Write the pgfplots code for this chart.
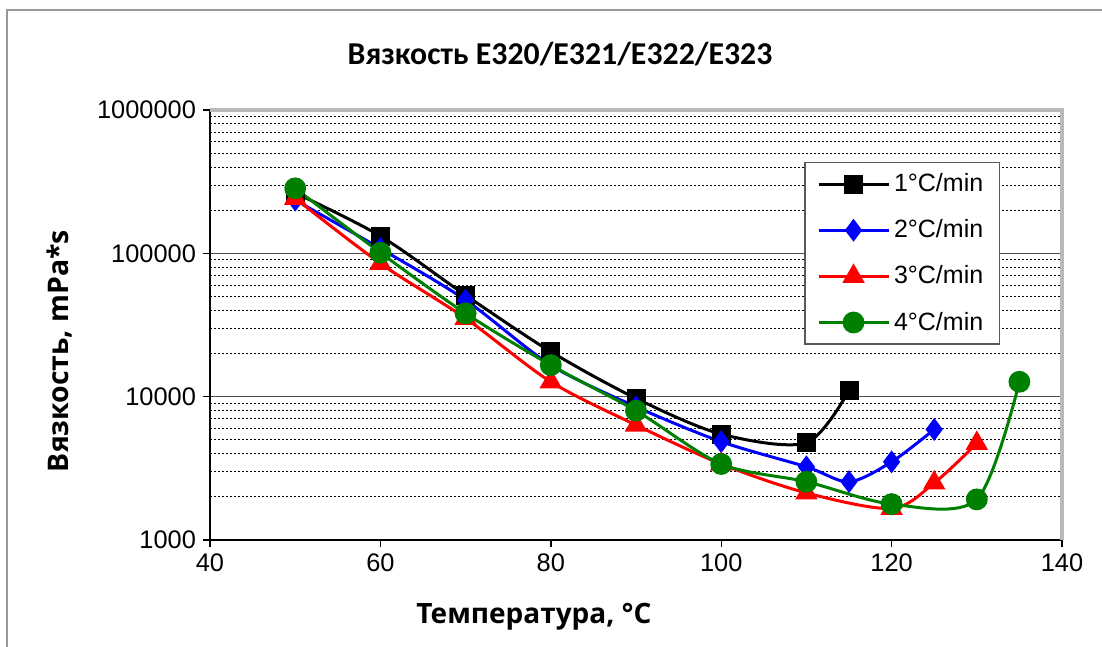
\documentclass[border=0pt]{standalone}
\usepackage{fontspec}
\setmainfont{Liberation Sans}
\newfontfamily\titlefont{Carlito}
\newfontfamily\labelfont{Open Sans}
\usepackage{pgfplots}
\pgfplotsset{compat=1.18}
\definecolor{excgreen}{RGB}{0,128,0}
\definecolor{excblue}{RGB}{0,0,255}
\definecolor{excred}{RGB}{255,0,0}

\begin{document}
\begin{tikzpicture}
\path[use as bounding box] (-105pt,-53.5pt) rectangle (446pt,270pt);
\draw[gray!80, line width=0.8pt] (-101.5pt,-60pt) -- (-101.5pt,265pt) -- (450pt,265pt);
\begin{axis}[
  scale only axis, width=426pt, height=215pt,
  xmin=40, xmax=140, ymin=1000, ymax=1000000, ymode=log,
  axis x line*=bottom, axis y line*=left,
  axis line style={black, line width=0.9pt, -},
  xtick={40,60,80,100,120,140},
  ytick={1000,10000,100000,1000000},
  yticklabels={1000,10000,100000,1000000},
  minor ytick={2000,3000,4000,5000,6000,7000,8000,9000,
    20000,30000,40000,50000,60000,70000,80000,90000,
    200000,300000,400000,500000,600000,700000,800000,900000},
  ymajorgrids, yminorgrids,
  major grid style={gray!60!black, line width=0.8pt},
  minor grid style={black, line width=0.4pt, dash pattern=on 1.2pt off 0.8pt},
  tick style={black, line width=0.7pt}, major tick length=3.5pt, minor tick length=0pt,
  tick align=outside,
  ticklabel style={font=\fontsize{12.7}{15}\selectfont},
  /pgf/number format/assume math mode=true,
  legend style={at={(0.927,0.879)}, anchor=north east, draw=gray!70!black,
    line width=0.6pt, font=\fontsize{12.5}{15}\selectfont,
    row sep=8.5pt, inner xsep=6pt, inner ysep=3.5pt},
  legend cell align=left,
  legend image code/.code={\draw[mark repeat=2,mark phase=2,#1] plot coordinates {(0pt,0pt) (17.5pt,0pt) (35pt,0pt)};},
  every axis plot/.append style={line width=1.5pt, smooth, mark options={solid}},
]
\addplot[black, mark=square*, mark size=4pt] coordinates {
 (50,264000) (60,132000) (70,51000) (80,20600) (90,9730) (100,5480) (110,4770) (115,11100)};
\addlegendentry{1°C/min}
\addplot[excblue, mark=diamond*, mark size=4.5pt] coordinates {
 (50,235000) (60,108000) (70,47200) (80,16600) (90,8500) (100,4850) (110,3240) (115,2550) (120,3510) (125,5910)};
\addlegendentry{2°C/min}
\addplot[excred, mark=triangle*, mark size=5pt] coordinates {
 (50,242000) (60,85000) (70,35200) (80,12700) (90,6340) (100,3390) (110,2130) (120,1660) (125,2500) (130,4720)};
\addlegendentry{3°C/min}
\addplot[excgreen, mark=*, mark size=4.7pt] coordinates {
 (50,284000) (60,101000) (70,38100) (80,16600) (90,7980) (100,3390) (110,2550) (120,1780) (130,1920) (135,12700)};
\addlegendentry{4°C/min}
\end{axis}
\draw[gray!55, line width=1.6pt] (0pt,215pt) -- (426pt,215pt) -- (426pt,0pt);
\node[font=\titlefont\bfseries\fontsize{15.9}{19}\selectfont] at (175pt,243pt) {Вязкость E320/E321/E322/E323};
\node[font=\labelfont\bfseries\fontsize{14.2}{17}\selectfont, rotate=90] at (-75pt,94.5pt) {Вязкость, mPa*s};
\node[font=\labelfont\bfseries\fontsize{14}{17}\selectfont] at (162pt,-38.5pt) {Температура, °C};
\end{tikzpicture}
\end{document}
